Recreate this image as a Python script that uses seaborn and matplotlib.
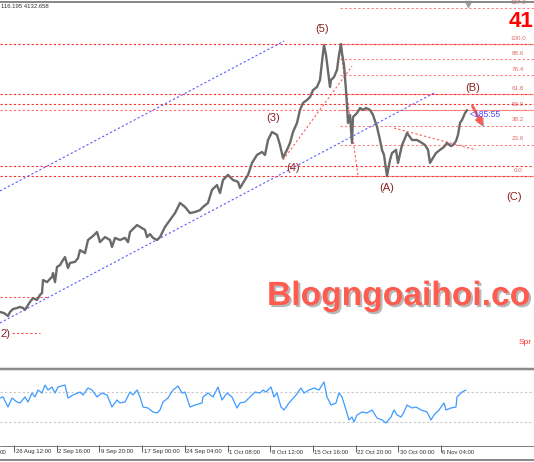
import matplotlib
matplotlib.use("Agg")
import matplotlib.pyplot as plt
import matplotlib.patheffects as pe
import matplotlib.transforms as mtransforms
from matplotlib.lines import Line2D
import pandas as pd
import seaborn as sns

# ---------------- data ----------------
price_bar = [0, 4, 8, 10, 13, 17, 20, 23, 25, 28, 30, 33, 37, 40, 42, 43, 47, 50, 52, 53,
             55, 57, 60, 63, 65, 68, 70, 75, 78, 80, 85, 88, 93, 97, 100, 105, 110, 112, 115, 120,
             125, 128, 130, 134, 137, 142, 145, 147, 150, 153, 157, 160, 165, 170, 175, 180, 185, 190, 195, 200,
             203, 208, 212, 217, 220, 223, 228, 233, 238, 240, 243, 248, 252, 257, 262, 265, 268, 272, 277, 280,
             283, 287, 290, 293, 297, 300, 303, 307, 310, 313, 317, 320, 322, 324, 326, 327, 330, 331, 334, 337,
             339, 341, 342, 344, 346, 347, 348, 350, 352, 353, 357, 360, 363, 366, 370, 373, 377, 380, 382, 384,
             387, 390, 392, 396, 398, 402, 405, 407, 410, 412, 417, 422, 425, 428, 430, 433, 436, 440, 444, 447,
             451, 453, 456, 458, 460, 462, 465, 467]
price_close = [3376, 3372, 3361, 3376, 3387, 3391, 3395, 3391, 3384, 3402, 3414, 3428, 3421, 3440, 3447, 3496, 3488, 3500, 3507, 3522,
               3488, 3545, 3552, 3571, 3582, 3541, 3560, 3564, 3578, 3608, 3597, 3646, 3661, 3676, 3638, 3657, 3646, 3620, 3654, 3646,
               3654, 3638, 3676, 3691, 3702, 3691, 3684, 3657, 3668, 3654, 3646, 3657, 3695, 3721, 3747, 3785, 3770, 3747, 3751, 3758,
               3770, 3785, 3834, 3852, 3822, 3871, 3890, 3871, 3864, 3841, 3860, 3890, 3935, 3965, 3976, 3965, 4021, 4051, 4040, 4002,
               3954, 3984, 4010, 4051, 4085, 4134, 4160, 4171, 4182, 4208, 4220, 4246, 4314, 4377, 4340, 4310, 4220, 4246, 4257, 4284,
               4340, 4381, 4347, 4302, 4208, 4145, 4085, 4115, 4010, 4107, 4122, 4141, 4134, 4141, 4134, 4115, 4070, 4021, 3984, 3965,
               3886, 3946, 3972, 3984, 3935, 4002, 4028, 4047, 4032, 4021, 4021, 4010, 4002, 3984, 3935, 3954, 3972, 3984, 3995, 4010,
               3998, 4002, 4017, 4040, 4085, 4096, 4122, 4133]

rsi_bar = [0, 3, 8, 12, 17, 20, 25, 28, 32, 35, 38, 42, 45, 48, 52, 55, 58, 65, 68, 73,
           80, 83, 88, 92, 97, 102, 107, 112, 117, 120, 125, 130, 133, 137, 140, 143, 148, 153, 157, 160,
           163, 168, 173, 178, 182, 185, 190, 195, 202, 203, 208, 213, 218, 222, 227, 232, 237, 240, 245, 250,
           255, 260, 263, 266, 271, 274, 277, 281, 284, 289, 296, 301, 304, 309, 314, 319, 324, 327, 331, 336,
           339, 342, 346, 349, 352, 354, 357, 362, 367, 372, 377, 382, 386, 391, 394, 397, 401, 404, 407, 412,
           416, 421, 427, 431, 434, 439, 444, 446, 451, 456, 457, 462, 466]
rsi_value = [61.8, 63.2, 50.0, 61.8, 56.6, 55.3, 63.2, 56.6, 68.4, 63.2, 72.4, 68.4, 78.9, 72.4, 76.3, 68.4, 76.3, 78.9, 61.8, 65.8,
             69.7, 65.8, 75.0, 72.4, 63.2, 68.4, 65.8, 50.0, 59.2, 55.3, 56.6, 69.7, 65.8, 72.4, 63.2, 50.0, 48.7, 43.4, 42.1, 46.1,
             56.6, 61.8, 72.4, 77.6, 68.4, 69.7, 50.0, 52.6, 55.3, 63.2, 68.4, 63.2, 76.3, 59.2, 68.4, 63.2, 48.7, 55.3, 56.6, 63.2,
             69.7, 68.4, 72.4, 69.7, 76.3, 63.2, 68.4, 50.0, 46.1, 55.3, 65.8, 75.0, 68.4, 72.4, 75.0, 72.4, 82.9, 63.2, 52.6, 55.3,
             68.4, 63.2, 46.1, 32.9, 36.8, 30.3, 39.5, 43.4, 42.1, 46.1, 35.5, 32.9, 28.9, 36.8, 46.1, 39.5, 36.8, 43.4, 52.6, 48.7,
             50.0, 46.1, 43.4, 32.9, 39.5, 46.1, 55.3, 46.1, 48.7, 50.0, 63.2, 69.7, 72.4]
rsi_levels = [70, 30]

date_tick_bar = [-28.7, 14.0, 56.7, 99.4, 142.1, 184.8, 227.5, 270.2, 312.9, 355.6, 398.3, 441.0]
date_tick_label = ["00", "26 Aug 12:00", "2 Sep 16:00", "9 Sep 20:00", "17 Sep 00:00",
                   "24 Sep 04:00", "1 Oct 08:00", "8 Oct 12:00", "15 Oct 16:00", "22 Oct 20:00",
                   "30 Oct 00:00", "6 Nov 04:00"]

fib_levels = [0.0, 23.6, 38.2, 50.0, 61.8, 76.4, 88.6, 100.0, 127.2]
fib_level_label = ["0.0", "23.6", "38.2", "50.0", "61.8", "76.4", "88.6", "100.0", "127.2"]
fib_low, fib_high = 3886, 4381
fib_start_bar = 340

hline_price = [4381, 4193.5, 4156, 3923.5, 3886]
hline_light_price = [4133.5]
short_hline_price = [3432, 3297]
short_hline_start = [0, 12]
short_hline_end = [48, 40]

wave_text = ["2)", "(3)", "(4)", "(5)", "(A)", "(B)", "(C)"]
wave_bar = [5, 273, 293, 322, 387, 473, 514]
wave_price = [3293, 4103, 3916, 4437, 3841, 4216, 3807]

blue_line_bar = [(0, 436), (0, 284)]
blue_line_price = [(3335, 4201), (3830, 4392)]
red_line_bar = [(283, 352), (340, 358), (394, 476)]
red_line_price = [(3946, 4298), (4377, 3886), (4066, 3984)]

arrow_bar = (471, 484)
arrow_price = (4158, 4064)
timer_bar, timer_price, timer_text = 470, 4118, "<185:55"

header_text = "116.195 4132.658"
big_price_text = "41"
watermark_text = "Blogngoaihoi.co"
spread_text = "Spr"

# ---------------- figure ----------------
sns.set_theme(style="white")
plt.rcParams["font.family"] = ["Liberation Sans", "DejaVu Sans"]

W, H = 534, 462
fig = plt.figure(figsize=(W / 100, H / 100), dpi=100)
fig.patch.set_facecolor("white")


def fy(py):
    return 1 - py / H


ax = fig.add_axes([0, fy(367), 1, (367 - 3) / H])
ax_rsi = fig.add_axes([0, fy(445), 1, (445 - 369) / H])

for a in (ax, ax_rsi):
    a.set_facecolor("white")
    for s in a.spines.values():
        s.set_visible(False)
    a.set_xlim(0, W)

ax.set_ylim(4546 - 3.75 * 367, 4546 - 3.75 * 3)
ax.set_xticks([])
ax.set_yticks([])

dot = (0, (2, 2))
for p in hline_price:
    ax.axhline(p, color="#ff2a2a", lw=0.8, ls=dot, zorder=1)
for p in hline_light_price:
    ax.axhline(p, color="#ff7070", lw=0.8, ls=dot, zorder=1)
for p, a0, a1 in zip(short_hline_price, short_hline_start, short_hline_end):
    ax.plot([a0, a1], [p, p], color="#ff5050", lw=0.8, ls=dot, zorder=1)

for lv, lab in zip(fib_levels, fib_level_label):
    p = fib_low + lv / 100 * (fib_high - fib_low)
    ax.plot([fib_start_bar, W], [p, p], color="#ff8080", lw=0.8, ls=dot, zorder=1)
    ax.annotate(lab, (518, p), xytext=(0, 2.5), textcoords="offset points",
                ha="center", va="bottom", fontsize=4.5, color="#e06a6a")

for (x0, x1), (p0, p1) in zip(blue_line_bar, blue_line_price):
    ax.plot([x0, x1], [p0, p1], color="#5a5aff", lw=0.8, ls=dot, zorder=1)
for (x0, x1), (p0, p1) in zip(red_line_bar, red_line_price):
    ax.plot([x0, x1], [p0, p1], color="#ff5a5a", lw=0.8, ls=dot, zorder=1)

df_price = pd.DataFrame({"bar": price_bar, "price": price_close})
sns.lineplot(data=df_price, x="bar", y="price", ax=ax, color="#6a6a6a", lw=1.7,
             estimator=None, sort=False, zorder=3)
ax.set_xlabel("")
ax.set_ylabel("")

for t, b, p in zip(wave_text, wave_bar, wave_price):
    ax.text(b, p, t, ha="center", va="center", fontsize=8, color="#8b2222", zorder=4)

ax.annotate("", xy=(arrow_bar[1], arrow_price[1]), xytext=(arrow_bar[0], arrow_price[0]),
            arrowprops=dict(arrowstyle="-|>", color="#ff5a50", lw=1.8, mutation_scale=10,
                            path_effects=[pe.SimpleLineShadow(offset=(1, -1), shadow_color="gray", alpha=0.5),
                                          pe.Normal()]),
            zorder=5)
ax.text(timer_bar, timer_price, timer_text, ha="left", va="center", fontsize=6.2,
        color="#4a4aff", zorder=5)

ax.plot([468], [4546 - 3.75 * 4], marker="v", color="#a0a0a0", ms=4, clip_on=False, zorder=6)

# RSI panel
ax_rsi.set_ylim(0, 100)
ax_rsi.set_yticks([])
for lv in rsi_levels:
    ax_rsi.axhline(lv, color="#c8c8c8", lw=0.8, ls=dot, zorder=1)
df_rsi = pd.DataFrame({"bar": rsi_bar, "rsi": rsi_value})
sns.lineplot(data=df_rsi, x="bar", y="rsi", ax=ax_rsi, color="#3d9bff", lw=0.9,
             estimator=None, sort=False, zorder=3)
ax_rsi.set_xlabel("")
ax_rsi.set_ylabel("")
ax_rsi.set_xticks([b for b in date_tick_bar if b >= 0])
ax_rsi.set_xticklabels([])
ax_rsi.tick_params(axis="x", direction="out", length=5, width=0.6, color="#404040", bottom=True)
lab_tr = mtransforms.blended_transform_factory(ax_rsi.transData, fig.transFigure)
for b, lab in zip(date_tick_bar, date_tick_label):
    xpos = 0 if b < 0 else b + 1.5
    ax_rsi.text(xpos, fy(452), lab, transform=lab_tr, fontsize=4.3, color="#303030",
                ha="left", va="center", clip_on=False)

for py, lw, col in [(1.5, 2.0, "#8a8a8a"), (368.5, 2.5, "#8a8a8a"), (445.5, 0.9, "#707070"),
                    (460, 2.0, "#8a8a8a")]:
    fig.add_artist(Line2D([0, 1], [fy(py), fy(py)], transform=fig.transFigure,
                          color=col, lw=lw * 0.72))

fig.text(1 / W, fy(7), header_text, fontsize=4.3, color="#303030", ha="left", va="center")
fig.text(509 / W, fy(27), big_price_text, fontsize=16, fontweight="bold", color="#ff0000",
         ha="left", va="baseline")
fig.text(267 / W, fy(305), watermark_text, fontsize=24.2, fontweight="bold", color="#ff5b4f",
         ha="left", va="baseline",
         path_effects=[pe.withSimplePatchShadow(offset=(1.5, -1.5), shadow_rgbFace="#888888", alpha=0.6)])
fig.text(519 / W, fy(343), spread_text, fontsize=6, color="#ff3030", ha="left", va="center")

fig.savefig("out.png", dpi=100, facecolor="white")
